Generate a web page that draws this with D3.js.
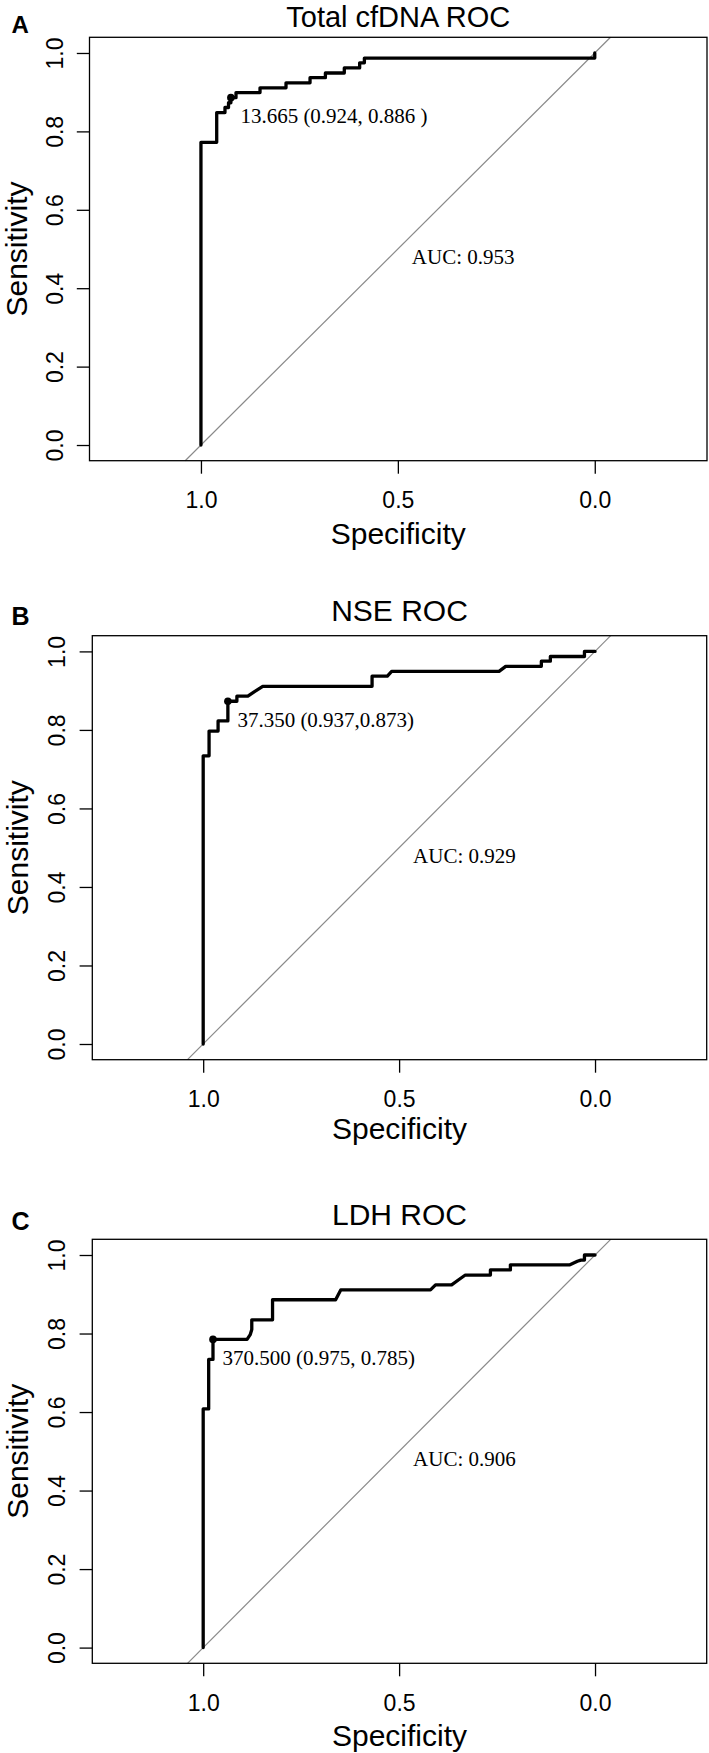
<!DOCTYPE html>
<html><head><meta charset="utf-8">
<script src="https://cdn.jsdelivr.net/npm/d3@7"></script>
<style>body{margin:0;background:#fff}</style>
</head><body><svg id="c" width="709" height="1753"></svg>
<script>
// ---------- data ----------
const panelLetters = ["A", "B", "C"];
const titles = ["Total cfDNA ROC", "NSE ROC", "LDH ROC"];
const aucLabels = ["AUC: 0.953", "AUC: 0.929", "AUC: 0.906"];
const thrLabels = ["13.665 (0.924, 0.886 )", "37.350 (0.937,0.873)", "370.500 (0.975, 0.785)"];
const thrSpec = [0.924, 0.937, 0.975];
const thrSens = [0.886, 0.873, 0.785];
const xTicks = [1.0, 0.5, 0.0];
const yTicks = [0.0, 0.2, 0.4, 0.6, 0.8, 1.0];

const specA = [1, 1, 0.960, 0.960, 0.939, 0.939, 0.930, 0.930, 0.924, 0.924, 0.911, 0.911, 0.850, 0.850, 0.784, 0.784, 0.723, 0.723, 0.684, 0.684, 0.636, 0.636, 0.597, 0.597, 0.585, 0.585, 0.0, 0.0];
const sensA = [0, 0.772, 0.772, 0.848, 0.848, 0.861, 0.861, 0.873, 0.873, 0.886, 0.886, 0.899, 0.899, 0.911, 0.911, 0.924, 0.924, 0.937, 0.937, 0.949, 0.949, 0.962, 0.962, 0.975, 0.975, 0.987, 0.987, 1.0];

const specB = [1, 1, 0.985, 0.985, 0.962, 0.962, 0.937, 0.937, 0.914, 0.914, 0.886, 0.870, 0.848, 0.569, 0.569, 0.530, 0.519, 0.245, 0.228, 0.137, 0.137, 0.114, 0.114, 0.027, 0.027, 0.0];
const sensB = [0, 0.734, 0.734, 0.797, 0.797, 0.823, 0.823, 0.873, 0.873, 0.886, 0.886, 0.897, 0.911, 0.911, 0.937, 0.937, 0.949, 0.949, 0.962, 0.962, 0.975, 0.975, 0.987, 0.987, 1.0, 1.0];

const specC = [1, 1, 0.986, 0.986, 0.975, 0.975, 0.888, 0.880, 0.876, 0.876, 0.823, 0.823, 0.662, 0.649, 0.420, 0.407, 0.366, 0.348, 0.331, 0.267, 0.267, 0.216, 0.216, 0.064, 0.045, 0.036, 0.027, 0.027, 0.0];
const sensC = [0, 0.608, 0.608, 0.734, 0.734, 0.785, 0.785, 0.797, 0.810, 0.835, 0.835, 0.886, 0.886, 0.911, 0.911, 0.924, 0.924, 0.937, 0.949, 0.949, 0.962, 0.962, 0.975, 0.975, 0.984, 0.987, 0.987, 1.0, 1.0];

const rocSpec = [specA, specB, specC];
const rocSens = [sensA, sensB, sensC];

// ---------- layout ----------
const SANS = "'Liberation Sans', Arial, Helvetica, sans-serif";
const SERIF = "'Liberation Serif', 'Times New Roman', serif";
const layouts = [
  {l: 89.5, t: 37.3, r: 707, b: 460.7, lab: 4, titleOff: 10.8, specOff: 83.3, sensX: 27, letterSize: 24, titleSize: 29},
  {l: 92.3, t: 635.7, r: 706.7, b: 1059.7, lab: 10.7, titleOff: 14.7, specOff: 79, sensX: 27.5, letterSize: 25, titleSize: 30},
  {l: 92.3, t: 1239.3, r: 706.7, b: 1663.3, lab: 9.6, titleOff: 14.7, specOff: 83, sensX: 27.5, letterSize: 25, titleSize: 30}
];

const svg = d3.select("#c");
svg.append("rect").attr("width", 709).attr("height", 1753).attr("fill", "#fff");

panelLetters.forEach((letter, i) => {
  const L = layouts[i];
  const x = d3.scaleLinear().domain([1.283, -0.285]).range([L.l, L.r]);
  const y = d3.scaleLinear().domain([-0.04, 1.04]).range([L.b, L.t]);
  const g = svg.append("g");

  // diagonal reference line
  g.append("line")
    .attr("x1", x(1.04)).attr("y1", y(-0.04))
    .attr("x2", x(-0.04)).attr("y2", y(1.04))
    .attr("stroke", "#8a8a8a").attr("stroke-width", 1.2);

  // ROC curve
  const pts = rocSpec[i].map((s, j) => [s, rocSens[i][j]]);
  g.append("path").datum(pts)
    .attr("d", d3.line().x(d => x(d[0])).y(d => y(d[1])))
    .attr("fill", "none").attr("stroke", "#000").attr("stroke-width", 3.3)
    .attr("stroke-linejoin", "round").attr("stroke-linecap", "round");

  // box
  g.append("rect")
    .attr("x", L.l).attr("y", L.t).attr("width", L.r - L.l).attr("height", L.b - L.t)
    .attr("fill", "none").attr("stroke", "#000").attr("stroke-width", 1.3);

  // x axis
  const xa = g.append("g").attr("transform", `translate(0,${L.b})`)
    .call(d3.axisBottom(x).tickValues(xTicks).tickFormat(d3.format(".1f")).tickSize(13).tickSizeOuter(0));
  xa.select(".domain").remove();
  xa.selectAll("line").attr("stroke", "#000").attr("stroke-width", 1.3);
  xa.selectAll("text").attr("y", 47.3).attr("dy", 0)
    .attr("font-size", 23).attr("font-family", SANS).attr("fill", "#000");

  // y axis
  const ya = g.append("g").attr("transform", `translate(${L.l},0)`)
    .call(d3.axisLeft(y).tickValues(yTicks).tickFormat(d3.format(".1f")).tickSize(12.7).tickSizeOuter(0));
  ya.select(".domain").remove();
  ya.selectAll("line").attr("stroke", "#000").attr("stroke-width", 1.3);
  ya.selectAll("text").attr("x", 0).attr("dy", 0)
    .attr("transform", "translate(-27,0) rotate(-90)")
    .attr("text-anchor", "middle")
    .attr("font-size", 23).attr("font-family", SANS).attr("fill", "#000");

  // axis titles
  g.append("text").attr("x", (L.l + L.r) / 2).attr("y", L.b + L.specOff)
    .attr("text-anchor", "middle").attr("font-size", 30).attr("font-family", SANS)
    .text("Specificity");
  g.append("text")
    .attr("transform", `translate(${L.sensX},${y(0.5)}) rotate(-90)`)
    .attr("text-anchor", "middle").attr("font-size", 30).attr("font-family", SANS)
    .text("Sensitivity");

  // main title
  g.append("text").attr("x", (L.l + L.r) / 2).attr("y", L.t - L.titleOff)
    .attr("text-anchor", "middle").attr("font-size", L.titleSize).attr("font-family", SANS)
    .text(titles[i]);

  // panel letter
  g.append("text").attr("x", 11.5).attr("y", L.t - L.lab)
    .attr("font-size", L.letterSize).attr("font-weight", "bold").attr("font-family", SANS)
    .text(letter);

  // threshold point + label
  g.append("circle").attr("cx", x(thrSpec[i])).attr("cy", y(thrSens[i])).attr("r", 3.8).attr("fill", "#000");
  g.append("text").attr("x", x(thrSpec[i]) + 9.5).attr("y", y(thrSens[i]) + 25.5)
    .attr("font-size", 21).attr("font-family", SERIF).attr("fill", "#000")
    .text(thrLabels[i]);

  // AUC label
  g.append("text").attr("x", x(0.5) + 14).attr("y", y(0.5) + 15)
    .attr("font-size", 21).attr("font-family", SERIF).attr("fill", "#000")
    .text(aucLabels[i]);
});
</script>
</body></html>
